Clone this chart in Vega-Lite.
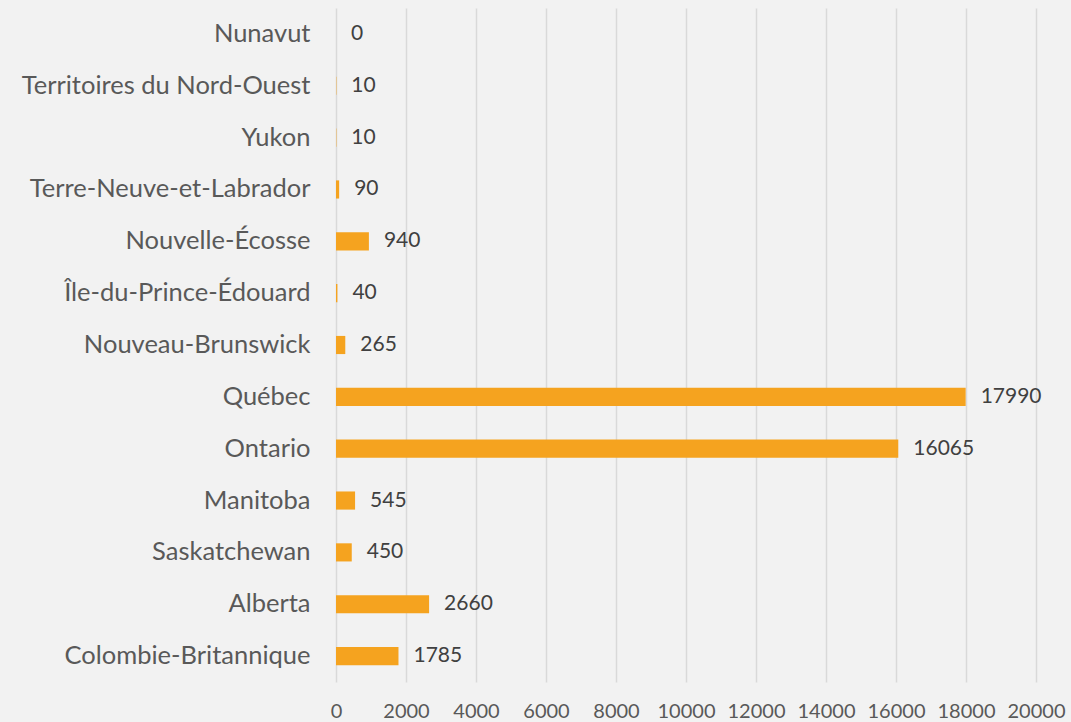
{
  "$schema": "https://vega.github.io/schema/vega-lite/v6.json",
  "width": 700,
  "height": 674,
  "autosize": {"type": "none"},
  "padding": {"left": 336, "top": 8, "right": 35, "bottom": 40},
  "background": "#F2F2F2",
  "config": {"view": {"stroke": null}, "font": "Lato"},
  "data": {"values": [
    {"province": "Nunavut", "value": 0},
    {"province": "Territoires du Nord-Ouest", "value": 10},
    {"province": "Yukon", "value": 10},
    {"province": "Terre-Neuve-et-Labrador", "value": 90},
    {"province": "Nouvelle-Écosse", "value": 940},
    {"province": "Île-du-Prince-Édouard", "value": 40},
    {"province": "Nouveau-Brunswick", "value": 265},
    {"province": "Québec", "value": 17990},
    {"province": "Ontario", "value": 16065},
    {"province": "Manitoba", "value": 545},
    {"province": "Saskatchewan", "value": 450},
    {"province": "Alberta", "value": 2660},
    {"province": "Colombie-Britannique", "value": 1785}
  ]},
  "encoding": {
    "y": {"field": "province", "type": "nominal", "sort": null,
      "scale": {"paddingInner": 0.65, "paddingOuter": 0.325},
      "axis": {"title": null, "domain": false, "ticks": false, "labelPadding": 26,
        "labelFontSize": 25.5, "labelColor": "#595959", "labelFont": "Lato", "labelLimit": 400}},
    "x": {"field": "value", "type": "quantitative",
      "scale": {"domain": [0, 20000], "nice": false},
      "axis": {"title": null, "domain": false, "ticks": false, "values": [0,2000,4000,6000,8000,10000,12000,14000,16000,18000,20000],
        "labelPadding": 19, "labelFontSize": 20, "labelColor": "#595959", "labelFont": "Lato",
        "gridColor": "#D9D9D9", "gridWidth": 1.5, "labelFlush": false, "format": "d"}}
  },
  "layer": [
    {"mark": {"type": "bar", "color": "#F5A31F"}},
    {"mark": {"type": "text", "align": "left", "dx": 15, "fontSize": 21, "color": "#404040", "font": "Lato"},
      "encoding": {"text": {"field": "value", "type": "quantitative", "format": "d"}}}
  ]
}
